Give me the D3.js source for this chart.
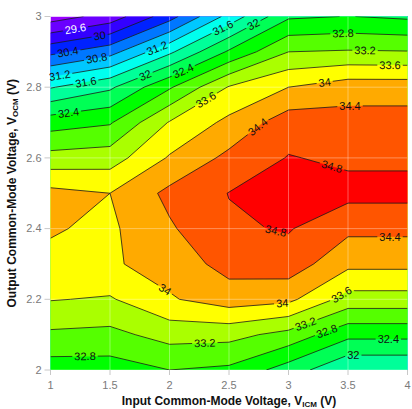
<!DOCTYPE html>
<html><head><meta charset="utf-8">
<script src="https://cdn.jsdelivr.net/npm/d3@7"></script>
<style>
body{margin:0;background:#fff;}
svg{display:block;font-family:"Liberation Sans",Arial,sans-serif;}
</style>
</head><body>
<svg id="chart" width="412" height="409"></svg>
<script>
// ---- data ----
const vicm = [1, 1.5, 2, 2.5, 3, 3.5, 4];
const vocm = [3.0, 2.9, 2.8, 2.7, 2.6, 2.5, 2.4, 2.3, 2.2, 2.1, 2.0];
// gain (dB) rows, one per VOCM (top to bottom), columns per VICM
const g300 = [29.00, 29.36, 30.24, 31.34, 32.34, 32.41, 32.33];
const g290 = [30.29, 30.65, 31.52, 32.46, 33.20, 33.24, 33.22];
const g280 = [31.57, 31.93, 32.75, 33.63, 34.00, 34.22, 34.22];
const g270 = [32.62, 32.76, 33.63, 34.10, 34.62, 34.56, 34.56];
const g260 = [33.35, 33.41, 34.04, 34.50, 34.82, 34.73, 34.73];
const g250 = [34.12, 34.00, 34.50, 34.81, 35.00, 34.92, 34.92];
const g240 = [34.03, 33.93, 34.35, 34.75, 34.83, 34.49, 34.49];
const g230 = [33.92, 33.95, 34.16, 34.55, 34.62, 34.10, 34.10];
const g220 = [33.62, 33.56, 33.96, 34.20, 34.10, 33.44, 33.44];
const g210 = [33.13, 33.09, 33.35, 33.33, 33.07, 32.51, 32.51];
const g200 = [32.60, 32.61, 32.80, 32.72, 32.21, 31.63, 31.63];
const gainRows = [g300, g290, g280, g270, g260, g250, g240, g230, g220, g210, g200];

const levels = [29.2, 29.6, 30.0, 30.4, 30.8, 31.2, 31.6, 32.0, 32.4, 32.8, 33.2, 33.6, 34.0, 34.4, 34.8];
const xTicks = [1, 1.5, 2, 2.5, 3, 3.5, 4];
const yTicks = [2, 2.2, 2.4, 2.6, 2.8, 3];

// contour label annotations (level, VICM, VOCM)
const labelLevel = [29.6, 30, 30.4, 30.8, 31.2, 31.6, 32.4, 31.2, 32, 32.4, 31.6, 32, 32.8, 33.2, 33.6, 34, 34.4, 33.6, 34.4, 34.8, 34.8, 34.4, 34, 34, 33.6, 33.2, 33.2, 32.8, 32.4, 32, 32.8];
const labelX = [1.214, 1.416, 1.147, 1.391, 1.08, 1.298, 1.147, 1.895, 1.794, 2.105, 2.45, 2.735, 3.458, 3.643, 3.853, 3.307, 3.517, 2.298, 2.744, 3.374, 2.895, 3.853, 1.945, 2.945, 3.458, 2.298, 3.147, 3.334, 3.839, 3.545, 1.29];
const labelY = [2.956, 2.939, 2.897, 2.874, 2.829, 2.812, 2.738, 2.911, 2.835, 2.854, 2.967, 2.959, 2.953, 2.902, 2.857, 2.806, 2.764, 2.769, 2.687, 2.586, 2.396, 2.376, 2.218, 2.197, 2.206, 2.066, 2.127, 2.099, 2.087, 2.042, 2.04];

// ---- styles ----
const bandColors = ['#9900ff', '#6a00ff', '#3300ff', '#0022ff', '#0077ff', '#00c8ff', '#00ffee',
  '#00ff99', '#00ff55', '#00ff00', '#55ff00', '#aaff00', '#ffff00', '#ffaa00', '#ff5500', '#ff0000'];

const W = 412, H = 409;
const plot = {l: 50.5, r: 407.5, t: 16.5, b: 370};
const svg = d3.select('#chart');
const x = d3.scaleLinear().domain([1, 4]).range([plot.l, plot.r]);
const y = d3.scaleLinear().domain([2, 3]).range([plot.b, plot.t]);

const nx = vicm.length, ny = vocm.length;
const values = [];
gainRows.forEach(r => r.forEach(v => values.push(v)));
const gx = d3.scaleLinear().domain([0.5, nx - 0.5]).range([vicm[0], vicm[nx - 1]]);
const gy = d3.scaleLinear().domain([0.5, ny - 0.5]).range([vocm[0], vocm[ny - 1]]);
const toPx = p => [x(gx(p[0])), y(gy(p[1]))];
const proj = d3.geoTransform({point(a, b) { const p = toPx([a, b]); this.stream.point(p[0], p[1]); }});
const path = d3.geoPath(proj);
const contours = d3.contours().size([nx, ny]).thresholds(levels)(values);

const defs = svg.append('defs');
defs.append('clipPath').attr('id', 'clip').append('rect')
  .attr('x', plot.l).attr('y', plot.t).attr('width', plot.r - plot.l).attr('height', plot.b - plot.t);

const gFill = svg.append('g').attr('clip-path', 'url(#clip)');
gFill.append('rect').attr('x', plot.l).attr('y', plot.t).attr('width', plot.r - plot.l).attr('height', plot.b - plot.t)
  .attr('fill', bandColors[0]);
gFill.selectAll('path.band').data(contours).join('path').attr('class', 'band')
  .attr('d', path).attr('fill', (d, i) => bandColors[i + 1]).attr('stroke', (d, i) => bandColors[i + 1]).attr('stroke-width', 0.3);

// grid lines
const gGrid = svg.append('g').attr('clip-path', 'url(#clip)');
gGrid.selectAll('line.vx').data(xTicks).join('line').attr('class', 'vx')
  .attr('x1', d => x(d)).attr('x2', d => x(d)).attr('y1', plot.t).attr('y2', plot.b)
  .attr('stroke', '#fff').attr('stroke-opacity', 0.35).attr('stroke-width', 1);
gGrid.selectAll('line.hy').data(yTicks).join('line').attr('class', 'hy')
  .attr('y1', d => y(d)).attr('y2', d => y(d)).attr('x1', plot.l).attr('x2', plot.r)
  .attr('stroke', '#fff').attr('stroke-opacity', 0.35).attr('stroke-width', 1);

// segments of each contour inside the plot (pixel space)
function segmentsOf(ci) {
  const segs = [];
  contours[ci].coordinates.forEach(poly => poly.forEach(ring => {
    for (let k = 0; k < ring.length - 1; k++) {
      const a = ring[k], b = ring[k + 1];
      const inside = p => p[0] >= 0.5 && p[0] <= nx - 0.5 && p[1] >= 0.5 && p[1] <= ny - 0.5;
      if (!inside(a) || !inside(b)) continue;
      segs.push([toPx(a), toPx(b)]);
    }
  }));
  return segs;
}

// labels
const fontSize = 11;
const measure = svg.append('text').attr('font-size', fontSize).attr('visibility', 'hidden');
const labels = labelLevel.map((lv, i) => {
  const ci = levels.findIndex(l => Math.abs(l - lv) < 1e-6);
  const tx = x(labelX[i]), ty = y(labelY[i]);
  let best = null, bd = Infinity;
  segmentsOf(ci).forEach(s => {
    const [a, b] = s;
    const dx = b[0] - a[0], dy = b[1] - a[1];
    const len2 = dx * dx + dy * dy || 1e-9;
    let t = ((tx - a[0]) * dx + (ty - a[1]) * dy) / len2;
    t = Math.max(0, Math.min(1, t));
    const px = a[0] + t * dx, py = a[1] + t * dy;
    const d = (px - tx) ** 2 + (py - ty) ** 2;
    if (d < bd) { bd = d; best = {px, py, ang: Math.atan2(dy, dx) * 180 / Math.PI}; }
  });
  if (!best) best = {px: tx, py: ty, ang: 0};
  let ang = best.ang;
  if (ang > 90) ang -= 180;
  if (ang < -90) ang += 180;
  const txt = String(lv);
  measure.text(txt);
  const w = measure.node().getComputedTextLength();
  return {txt, px: best.px, py: best.py, ang, w, lv};
});
measure.remove();

const mask = defs.append('mask').attr('id', 'gaps').attr('maskUnits', 'userSpaceOnUse')
  .attr('x', 0).attr('y', 0).attr('width', W).attr('height', H);
mask.append('rect').attr('x', 0).attr('y', 0).attr('width', W).attr('height', H).attr('fill', '#fff');
mask.selectAll('rect.g').data(labels).join('rect').attr('class', 'g')
  .attr('x', d => -d.w / 2 - 2).attr('y', -5).attr('width', d => d.w + 4).attr('height', 10)
  .attr('fill', '#000')
  .attr('transform', d => `translate(${d.px},${d.py}) rotate(${d.ang})`);

const gLines = svg.append('g').attr('clip-path', 'url(#clip)').append('g').attr('mask', 'url(#gaps)');
gLines.selectAll('path.line').data(contours).join('path').attr('class', 'line')
  .attr('d', (d, i) => {
    const segs = segmentsOf(i);
    return segs.map(s => `M${s[0][0]},${s[0][1]}L${s[1][0]},${s[1][1]}`).join('');
  })
  .attr('fill', 'none').attr('stroke', '#1a1a1a').attr('stroke-width', 0.8).attr('stroke-linejoin', 'round');

svg.append('g').selectAll('text').data(labels).join('text')
  .attr('transform', d => `translate(${d.px},${d.py}) rotate(${d.ang})`)
  .attr('text-anchor', 'middle').attr('dy', '0.35em')
  .attr('font-size', fontSize)
  .attr('fill', d => d.lv < 30 ? '#fff' : '#111')
  .text(d => d.txt);

// axes
const axisColor = '#c8c8c8', tickText = '#7a7a7a';
const gAx = svg.append('g');
gAx.selectAll('line.xt').data(xTicks).join('line').attr('class', 'xt')
  .attr('x1', d => x(d)).attr('x2', d => x(d)).attr('y1', plot.b).attr('y2', plot.b + 5)
  .attr('stroke', axisColor);
gAx.selectAll('line.yt').data(yTicks).join('line').attr('class', 'yt')
  .attr('y1', d => y(d)).attr('y2', d => y(d)).attr('x1', plot.l - 6).attr('x2', plot.l)
  .attr('stroke', axisColor);
gAx.selectAll('text.xl').data(xTicks).join('text').attr('class', 'xl')
  .attr('x', d => x(d)).attr('y', plot.b + 19).attr('text-anchor', 'middle')
  .attr('font-size', 11).attr('fill', tickText).text(d => d);
gAx.selectAll('text.yl').data(yTicks).join('text').attr('class', 'yl')
  .attr('x', plot.l - 9).attr('y', d => y(d)).attr('dy', '0.35em').attr('text-anchor', 'end')
  .attr('font-size', 11).attr('fill', tickText).text(d => d);

// axis titles
const xt = svg.append('text').attr('x', (plot.l + plot.r) / 2).attr('y', 405)
  .attr('text-anchor', 'middle').attr('font-size', 12).attr('font-weight', 'bold').attr('fill', '#111');
xt.append('tspan').text('Input Common-Mode Voltage, V');
xt.append('tspan').attr('font-size', 8).attr('dy', 2).text('ICM');
xt.append('tspan').attr('dy', -2).text(' (V)');

const yt = svg.append('text').attr('transform', `translate(16,${(plot.t + plot.b) / 2}) rotate(-90)`)
  .attr('text-anchor', 'middle').attr('font-size', 12).attr('font-weight', 'bold').attr('fill', '#111');
yt.append('tspan').text('Output Common-Mode Voltage, V');
yt.append('tspan').attr('font-size', 8).attr('dy', 2).text('OCM');
yt.append('tspan').attr('dy', -2).text(' (V)');
</script>
</body></html>
